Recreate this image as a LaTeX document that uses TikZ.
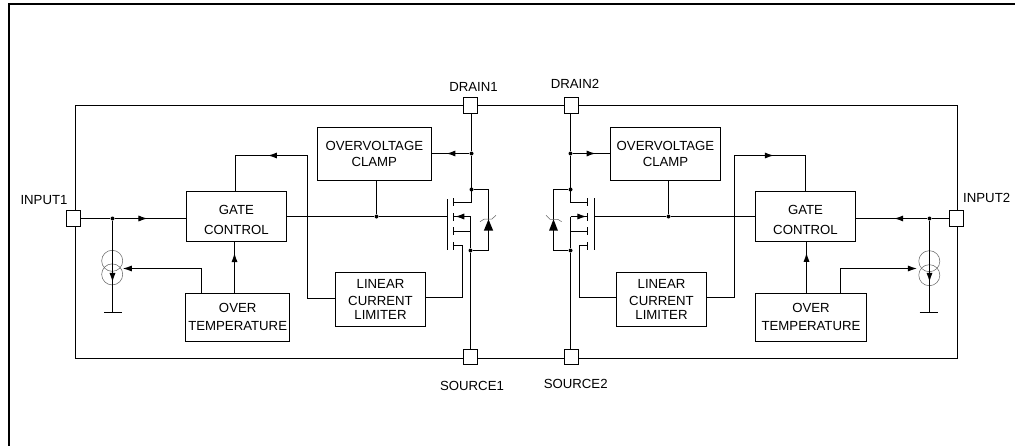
\documentclass[tikz,border=0pt]{standalone}
\usepackage{fontspec}
\setmainfont{Liberation Sans}
\usetikzlibrary{arrows.meta,decorations.markings}
\tikzset{
    %Define standard arrow tip
    >={Latex[length=6.8pt,width=4.6pt]},
    %Define style for wires
    wire/.style={
           line width=0.8pt},
    % Define arrow in the middle of a wire
    midpil/.style={
           wire,
           postaction={decorate},
           decoration={markings,
             mark=at position #1 with {\arrow{Latex[length=6.8pt,width=4.6pt]}}}},
    %Define style for boxes
    blok/.style={
           rectangle,
           draw=black,
           line width=0.8pt,
           inner sep=0pt,
           align=center,
           font=\fontsize{9.9}{12}\selectfont},
    gateblok/.style={blok,minimum width=75.2pt,minimum height=37.5pt},
    tempblok/.style={blok,minimum height=36.2pt},
    clampblok/.style={blok,minimum height=39.75pt},
    limitblok/.style={blok,minimum width=67.8pt,minimum height=40.5pt},
    % Define pins and their names
    pad/.style={
           rectangle,
           draw=black,
           fill=white,
           line width=0.7pt,
           inner sep=0pt,
           minimum width=10.8pt,
           minimum height=11.8pt},
    pinname/.style={
           inner sep=0pt,
           font=\fontsize{9.9}{12}\selectfont},
    junction/.style={
           circle,
           fill=black,
           inner sep=0pt,
           minimum size=3pt},
    ring/.style={
           circle,
           draw=black!60,
           line width=0.4pt,
           inner sep=0pt,
           minimum size=15.8pt},
    zener/.style={
           draw=black!60,
           line width=0.4pt}
}

\begin{document}
\begin{tikzpicture}[x=0.75pt,y=-0.75pt]
  \useasboundingbox (0,0) rectangle (1015,446);
  % page frame, open to the right and below
  \draw[line width=1.5pt] (8.7,446) -- (8.7,4) -- (1015,4);
  % package outline
  \draw[wire] (75.5,105.5) rectangle (957.5,358.5);

  \node[pad] (input1) at (73.5,218.3) {};
  \node[pad] (input2) at (956.5,218.6) {};
  \node[pad] (drain1) at (470.5,105.7) {};
  \node[pad] (drain2) at (571.5,105.5) {};
  \node[pad] (source1) at (470.5,357) {};
  \node[pad] (source2) at (571.5,357) {};
  \node[pinname] at (44,199.7) {INPUT1};
  \node[pinname] at (986.7,197.7) {INPUT2};
  \node[pinname] at (473.5,87) {DRAIN1};
  \node[pinname] at (575,84) {DRAIN2};
  \node[pinname] at (472,386) {SOURCE1};
  \node[pinname] at (575.7,384) {SOURCE2};

  % left channel blocks
  \node[gateblok] (gate1) at (236.4,216.4) {\rule{0pt}{11.5pt}GATE\\[3pt]CONTROL};
  \node[tempblok,minimum width=78pt] (temp1) at (237.7,317.2) {OVER\\[1.7pt]TEMPERATURE};
  \node[clampblok,minimum width=85.5pt] (clamp1) at (374.3,153.8) {OVERVOLTAGE\\CLAMP};
  \node[limitblok] (limit1) at (380.5,299.3) {LINEAR\\[1pt]CURRENT\\[-1.5pt]LIMITER};
  % right channel blocks
  \node[gateblok] (gate2) at (805.5,216.4) {\rule{0pt}{11.5pt}GATE\\[3pt]CONTROL};
  \node[tempblok,minimum width=83.5pt] (temp2) at (811,317.3) {OVER\\[1.7pt]TEMPERATURE};
  \node[clampblok,minimum width=82.8pt] (clamp2) at (665.5,153.8) {OVERVOLTAGE\\CLAMP};
  \node[limitblok] (limit2) at (661.5,299.3) {LINEAR\\[1pt]CURRENT\\[-1.5pt]LIMITER};

  % current sources
  \node[ring] (src1a) at (112.2,260.8) {};
  \node[ring] (src1b) at (112.2,274.4) {};
  \node[ring] (src2a) at (929.3,261.2) {};
  \node[ring] (src2b) at (929.3,275.2) {};
  \coordinate (src1in) at (122.8,268.5);
  \coordinate (src2in) at (917,268.5);
  \coordinate (gnd1) at (112.5,312.5);
  \coordinate (gnd2) at (929.5,312.5);

  % junctions
  \node[junction] (in1) at (112.5,218.5) {};
  \node[junction] (in2) at (929.5,218.5) {};
  \node[junction] (ctl1) at (376.5,216.5) {};
  \node[junction] (ctl2) at (668.5,216.5) {};
  \node[junction] (vd1) at (471.5,153.5) {};
  \node[junction] (vd2) at (570.5,153.5) {};
  \node[junction] (bd1) at (471.5,189.5) {};
  \node[junction] (bd2) at (570.5,189.5) {};
  \node[junction] (bs1) at (470.5,250.5) {};
  \node[junction] (bs2) at (570.5,250.5) {};

  % MOSFET 1
  \draw[wire] (447.5,199) -- (447.5,250);
  \draw[wire] (453.5,198.3) -- (453.5,205.7) (453.5,213.3) -- (453.5,220.7)
    (453.5,227.3) -- (453.5,234.7) (453.5,242) -- (453.5,250);
  \coordinate (m1gate) at (447.5,216.5);
  \coordinate (m1d) at (453.5,202.5);
  \coordinate (m1k) at (453.5,216.5);
  \coordinate (m1b) at (453.5,231.5);
  \coordinate (m1s) at (453.5,245.5);
  % MOSFET 2
  \draw[wire] (594.5,198.3) -- (594.5,250);
  \draw[wire] (587.5,198.3) -- (587.5,205.7) (587.5,213.3) -- (587.5,220.7)
    (587.5,227.3) -- (587.5,234.7) (587.5,242) -- (587.5,250);
  \coordinate (m2gate) at (594.5,216.5);
  \coordinate (m2d) at (587.5,202.5);
  \coordinate (m2k) at (587.5,216.5);
  \coordinate (m2b) at (587.5,231.5);
  \coordinate (m2s) at (587.5,245.5);

  % left channel wires
  \draw[midpil=0.618] (input1.east |- in1) -- (in1) -- (gate1.west |- in1);
  \draw[midpil=0.668] (in1) -- (in1 |- gnd1);
  \draw[wire] (gnd1) ++(-8.3,0) -- ++(18,0);
  \draw[wire] (gate1.east |- ctl1) -- (ctl1) -- (m1gate);
  \draw[wire] (clamp1.south -| ctl1) -- (ctl1);
  \draw[midpil=0.756] (limit1.west |- 335.3,298.5) -- (307.5,298.5) -- (307.5,155.5) -- (235.5,155.5) -- (235.5,155.5 |- gate1.north);
  \draw[wire,->] (201.5,293) -- (201.5,268.5) -- (src1in);
  \draw[midpil=0.774] (234.5,293) -- (234.5,241.3);
  \draw[midpil=0.61] (vd1) -- (clamp1.east |- vd1);
  \draw[wire] (drain1.south -| vd1) -- (vd1) -- (471.5,202.5) -- (m1d);
  \draw[wire] (bd1) -- (488.5,189.5) -- (488.5,250.5) -- (bs1);
  \draw[midpil=0.9] (470.5,216.5) -- (m1k);
  \draw[wire] (m1b) -- (470.5,231.5);
  \draw[wire] (470.5,216.5) -- (bs1) -- (bs1 |- source1.north);
  \draw[wire] (m1s) -- (462.5,245.5) -- (462.5,297.5) -- (limit1.east |- 462.5,297.5);
  \fill (488.5,219.3) -- (483.8,230.7) -- (493.2,230.7) -- cycle;
  \draw[zener] (480,221.7) -- (484,219.2) -- (491.7,219.2) -- (496,215.3);

  % right channel wires
  \draw[midpil=0.569] (input2.west |- in2) -- (in2) -- (gate2.east |- in2);
  \draw[midpil=0.667] (in2) -- (in2 |- gnd2);
  \draw[wire] (gnd2) ++(-10,0) -- ++(18.7,0);
  \draw[wire] (m2gate) -- (ctl2) -- (gate2.west |- ctl2);
  \draw[wire] (clamp2.south -| ctl2) -- (ctl2);
  \draw[midpil=0.757] (limit2.east |- 707,297.5) -- (734.5,297.5) -- (734.5,155.5) -- (805.5,155.5) -- (805.5,155.5 |- gate2.north);
  \draw[wire,->] (840.5,293.3) -- (840.5,268.5) -- (src2in);
  \draw[midpil=0.78] (806.5,293.3) -- (806.5,241.3);
  \draw[midpil=0.618] (vd2) -- (clamp2.west |- vd2);
  \draw[wire] (drain2.south -| vd2) -- (vd2) -- (570.5,202.5) -- (m2d);
  \draw[wire] (bd2) -- (553.5,189.5) -- (553.5,250.5) -- (bs2);
  \draw[midpil=0.94] (570.5,216.5) -- (m2k);
  \draw[wire] (570.5,231.5) -- (m2b);
  \draw[wire] (570.5,216.5) -- (bs2) -- (bs2 |- source2.north);
  \draw[wire] (m2s) -- (579.5,245.5) -- (579.5,297.5) -- (limit2.west |- 579.5,297.5);
  \fill (553.5,219.3) -- (549,230.7) -- (558,230.7) -- cycle;
  \draw[zener] (546,215.3) -- (550,219.3) -- (557.7,219.3) -- (561.7,221.7);
\end{tikzpicture}
\end{document}
